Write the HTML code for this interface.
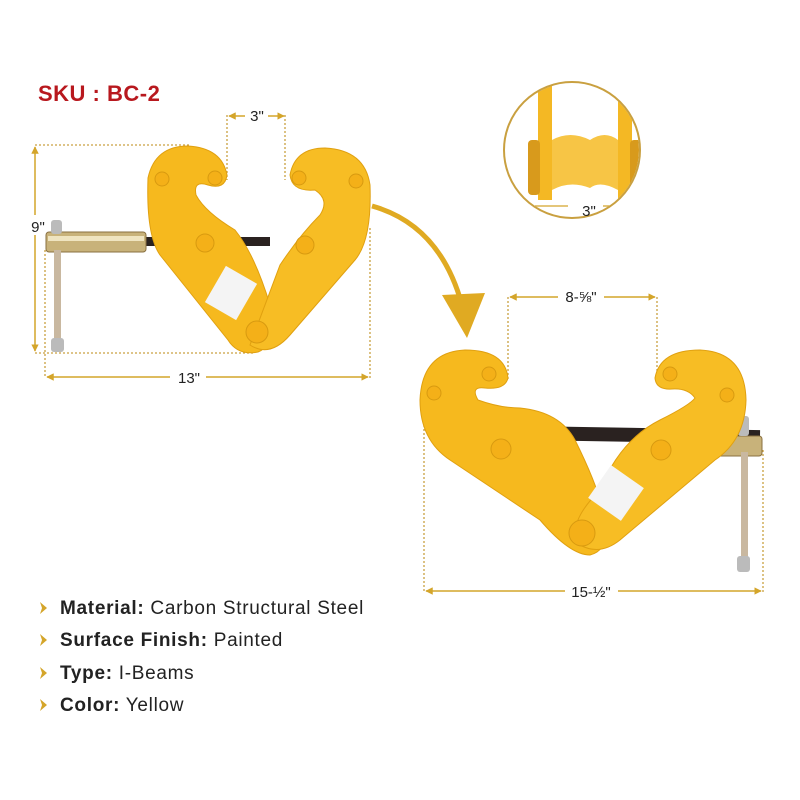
<!DOCTYPE html>
<html><head><meta charset="utf-8"><style>
body{margin:0;background:#fff;}
.w{position:relative;width:800px;height:800px;overflow:hidden;font-family:"Liberation Sans",sans-serif;}
</style></head><body><div class="w">
<svg width="800" height="800" viewBox="0 0 800 800" xmlns="http://www.w3.org/2000/svg">
<defs>
<marker id="ar" viewBox="0 0 10 10" refX="9" refY="5" markerWidth="5" markerHeight="5" orient="auto-start-reverse"><path d="M0,0 L10,5 L0,10 Z" fill="#d4a52a"/></marker>
<clipPath id="cc"><circle cx="572" cy="150" r="67"/></clipPath>
</defs>
<text x="38" y="101" font-size="22" font-weight="bold" fill="#b8181e" letter-spacing="0.5" font-family="Liberation Sans, sans-serif">SKU : BC-2</text>

<g stroke="#c9a040" stroke-width="1.3" stroke-dasharray="2,2" fill="none">
<line x1="35" y1="145" x2="190" y2="145"/>
<line x1="35" y1="353" x2="255" y2="353"/>
<line x1="45" y1="250" x2="45" y2="378"/>
<line x1="370" y1="228" x2="370" y2="378"/>
<line x1="227" y1="115" x2="227" y2="180"/>
<line x1="285" y1="115" x2="285" y2="180"/>
<line x1="508" y1="297" x2="508" y2="380"/>
<line x1="657" y1="297" x2="657" y2="380"/>
<line x1="424" y1="425" x2="424" y2="592"/>
<line x1="763" y1="450" x2="763" y2="592"/>
</g>
<g stroke="#d4a52a" stroke-width="1.5" fill="none">
<line x1="35" y1="147" x2="35" y2="351" marker-start="url(#ar)" marker-end="url(#ar)"/>
<line x1="47" y1="377" x2="170" y2="377" marker-start="url(#ar)"/>
<line x1="206" y1="377" x2="368" y2="377" marker-end="url(#ar)"/>
<line x1="229" y1="116" x2="245" y2="116" marker-start="url(#ar)"/>
<line x1="268" y1="116" x2="284" y2="116" marker-end="url(#ar)"/>
<line x1="510" y1="297" x2="558" y2="297" marker-start="url(#ar)"/>
<line x1="604" y1="297" x2="655" y2="297" marker-end="url(#ar)"/>
<line x1="426" y1="591" x2="565" y2="591" marker-start="url(#ar)"/>
<line x1="618" y1="591" x2="761" y2="591" marker-end="url(#ar)"/>
</g>
<g font-size="15" fill="#222" font-family="Liberation Sans, sans-serif" text-anchor="middle">
<rect x="28" y="215" width="22" height="20" fill="#fff"/>
<text x="38" y="232">9"</text>
<text x="189" y="383">13"</text>
<text x="257" y="121">3"</text>
<text x="581" y="302">8-⅝"</text>
<text x="591" y="597">15-½"</text>
</g>

<g clip-path="url(#cc)">
<path d="M552,140 Q570,130 590,140 Q605,130 618,140 L618,190 Q600,180 590,188 Q570,180 552,190Z" fill="#f7c545"/>
<rect x="538" y="80" width="14" height="130" fill="#f4b824"/>
<rect x="618" y="80" width="14" height="130" fill="#f4b824"/>
<rect x="528" y="140" width="12" height="55" rx="4" fill="#d89a1c"/>
<rect x="630" y="140" width="12" height="55" rx="4" fill="#d89a1c"/>
<rect x="535" y="200" width="100" height="20" fill="#fff"/>
<line x1="535" y1="206" x2="568" y2="206" stroke="#d4a52a" stroke-width="1.3"/>
<line x1="603" y1="206" x2="632" y2="206" stroke="#d4a52a" stroke-width="1.3"/>
</g>
<circle cx="572" cy="150" r="68" fill="none" stroke="#c9a040" stroke-width="2"/>
<text x="589" y="216" font-size="15" fill="#222" text-anchor="middle" font-family="Liberation Sans, sans-serif">3"</text>

<path d="M372,206 Q440,225 462,305" stroke="#e0aa22" stroke-width="5" fill="none"/>
<path d="M442,295 L485,293 L467,338 Z" fill="#e0aa22"/>

<rect x="130" y="237" width="140" height="9" fill="#2a2220"/>
<rect x="46" y="232" width="100" height="20" rx="3" fill="#c8b27a" stroke="#8a7040"/>
<rect x="48" y="236" width="96" height="5" fill="#efe4c0"/>
<rect x="54" y="250" width="7" height="95" fill="#c9b8a0"/>
<rect x="51" y="220" width="11" height="14" rx="3" fill="#bbb"/>
<rect x="51" y="338" width="13" height="14" rx="3" fill="#bbb"/>
<path d="M148,178 Q155,146 188,146 Q222,148 227,175 Q225,190 208,185 Q193,180 196,195 Q205,212 235,230 Q255,255 270,305 Q277,345 258,352 Q238,356 228,340 L160,255 Q146,235 148,178Z" fill="#f6b91e" stroke="#e0a010"/>
<path d="M290,175 Q295,148 325,148 Q365,150 370,185 Q372,240 355,260 L290,335 Q270,358 250,345 L280,265 Q300,235 320,215 Q330,200 315,190 Q292,192 290,175Z" fill="#f7bd24" stroke="#e0a010"/>
<g fill="#f4b018" stroke="#d89a10">
<circle cx="162" cy="179" r="7"/><circle cx="215" cy="178" r="7"/><circle cx="299" cy="178" r="7"/><circle cx="356" cy="181" r="7"/>
<circle cx="205" cy="243" r="9"/><circle cx="305" cy="245" r="9"/><circle cx="257" cy="332" r="11"/>
</g>
<rect x="210" y="275" width="42" height="36" fill="#f4f4f4" transform="rotate(-60 231 293)"/>

<rect x="530" y="428" width="230" height="14" fill="#2a2220" transform="rotate(1 640 435)"/>
<rect x="700" y="436" width="62" height="20" rx="3" fill="#c8b27a" stroke="#8a7040"/>
<rect x="741" y="452" width="7" height="110" fill="#c9b8a0"/>
<rect x="738" y="416" width="11" height="20" rx="3" fill="#bbb"/>
<rect x="737" y="556" width="13" height="16" rx="3" fill="#bbb"/>
<path d="M420,400 Q422,352 465,350 Q505,350 508,378 Q505,390 485,388 Q470,386 478,400 Q500,408 520,408 Q560,412 575,440 Q600,490 605,520 Q610,550 590,555 Q570,555 540,520 L450,460 Q420,440 420,400Z" fill="#f6b91e" stroke="#e0a010"/>
<path d="M655,378 Q660,350 700,350 Q745,352 746,400 Q745,440 715,460 L620,540 Q600,556 580,545 Q565,525 600,490 Q620,440 660,420 Q690,405 695,398 Q688,388 672,389 Q656,390 655,378Z" fill="#f7bd24" stroke="#e0a010"/>
<g fill="#f4b018" stroke="#d89a10">
<circle cx="434" cy="393" r="7"/><circle cx="489" cy="374" r="7"/><circle cx="670" cy="374" r="7"/><circle cx="727" cy="395" r="7"/>
<circle cx="501" cy="449" r="10"/><circle cx="661" cy="450" r="10"/><circle cx="582" cy="533" r="13"/>
</g>
<rect x="596" y="473" width="40" height="40" fill="#f4f4f4" transform="rotate(-55 616 493)"/>

<g font-size="19" letter-spacing="0.7" fill="#222" font-family="Liberation Sans, sans-serif">
<g fill="#d4a52a"><path d="M40,602 L47,608 L40,614 L42,608Z"/><path d="M40,634 L47,640 L40,646 L42,640Z"/><path d="M40,667 L47,673 L40,679 L42,673Z"/><path d="M40,699 L47,705 L40,711 L42,705Z"/></g>
<text x="60" y="614"><tspan font-weight="bold">Material:</tspan> Carbon Structural Steel</text>
<text x="60" y="646"><tspan font-weight="bold">Surface Finish:</tspan> Painted</text>
<text x="60" y="679"><tspan font-weight="bold">Type:</tspan> I-Beams</text>
<text x="60" y="711"><tspan font-weight="bold">Color:</tspan> Yellow</text>
</g>
</svg>
</div></body></html>
